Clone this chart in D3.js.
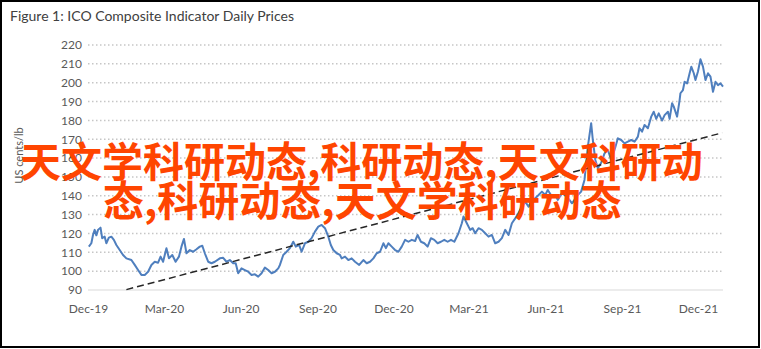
<!DOCTYPE html>
<html>
<head>
<meta charset="utf-8">
<script src="https://cdn.jsdelivr.net/npm/d3@7"></script>
<style>
  body { margin: 0; background: #fff; }
  svg { display: block; }
</style>
</head>
<body>
<div id="chart"></div>
<script>
// price series (US cents/lb)
const dates = [
  '2019-12-02','2019-12-05','2019-12-07','2019-12-09','2019-12-11','2019-12-13','2019-12-16','2019-12-18','2019-12-21','2019-12-23',
  '2019-12-26','2019-12-29','2020-01-01','2020-01-04','2020-01-08','2020-01-12','2020-01-16','2020-01-22','2020-01-26','2020-01-30',
  '2020-02-03','2020-02-07','2020-02-11','2020-02-15','2020-02-19','2020-02-23','2020-02-26','2020-02-29','2020-03-04','2020-03-07',
  '2020-03-11','2020-03-15','2020-03-19','2020-03-22','2020-03-25','2020-03-28','2020-04-01','2020-04-05','2020-04-09','2020-04-13',
  '2020-04-16','2020-04-19','2020-04-23','2020-04-27','2020-05-01','2020-05-07','2020-05-11','2020-05-15','2020-05-19','2020-05-23',
  '2020-05-26','2020-05-29','2020-06-02','2020-06-06','2020-06-10','2020-06-14','2020-06-18','2020-06-22','2020-06-26','2020-06-30',
  '2020-07-04','2020-07-08','2020-07-12','2020-07-16','2020-07-18','2020-07-22','2020-07-26','2020-07-30','2020-08-03','2020-08-06',
  '2020-08-10','2020-08-13','2020-08-17','2020-08-21','2020-08-25','2020-08-29','2020-09-02','2020-09-06','2020-09-10','2020-09-14',
  '2020-09-17','2020-09-20','2020-09-24','2020-09-28','2020-09-30','2020-10-04','2020-10-08','2020-10-12','2020-10-16','2020-10-21',
  '2020-10-26','2020-10-30','2020-11-03','2020-11-07','2020-11-11','2020-11-15','2020-11-19','2020-11-22','2020-11-25','2020-11-29',
  '2020-12-03','2020-12-07','2020-12-11','2020-12-15','2020-12-19','2020-12-23','2020-12-27','2020-12-30','2021-01-03','2021-01-07',
  '2021-01-11','2021-01-15','2021-01-19','2021-01-23','2021-01-27','2021-01-31','2021-02-04','2021-02-08','2021-02-12','2021-02-17',
  '2021-02-21','2021-02-23','2021-02-27','2021-03-03','2021-03-06','2021-03-09','2021-03-13','2021-03-17','2021-03-21','2021-03-25',
  '2021-03-29','2021-04-02','2021-04-06','2021-04-10','2021-04-14','2021-04-18','2021-04-22','2021-04-26','2021-04-30','2021-05-04',
  '2021-05-08','2021-05-12','2021-05-16','2021-05-20','2021-05-24','2021-05-28','2021-06-01','2021-06-04','2021-06-09','2021-06-13',
  '2021-06-16','2021-06-21','2021-06-27','2021-07-03','2021-07-06','2021-07-10','2021-07-14','2021-07-18','2021-07-22','2021-07-26',
  '2021-07-28','2021-07-31','2021-08-03','2021-08-07','2021-08-11','2021-08-15','2021-08-19','2021-08-23','2021-08-27','2021-08-31',
  '2021-09-04','2021-09-08','2021-09-12','2021-09-16','2021-09-20','2021-09-22','2021-09-25','2021-09-28','2021-10-02','2021-10-06',
  '2021-10-09','2021-10-12','2021-10-15','2021-10-19','2021-10-22','2021-10-26','2021-10-28','2021-10-31','2021-11-02','2021-11-06',
  '2021-11-09','2021-11-10','2021-11-13','2021-11-15','2021-11-18','2021-11-21','2021-11-23','2021-11-26','2021-11-28','2021-12-01',
  '2021-12-04','2021-12-07','2021-12-10','2021-12-13','2021-12-16','2021-12-19','2021-12-22','2021-12-25','2021-12-28','2021-12-31'
];
const prices = [
  113, 114.8, 119.2, 121.9, 119, 121.9, 123.1, 117.5, 118.3, 114.8,
  117.8, 118.3, 116.6, 113.9, 111.2, 108.6, 106.8, 105.9, 103.3, 100.6,
  98, 98, 99.7, 103.3, 105, 104.5, 107.7, 105, 112.2, 106.8,
  108.6, 105, 107.7, 113, 117.1, 109.5, 111.2, 110.3, 111.6, 113,
  113.5, 109.5, 105, 104.2, 105, 106.8, 107.1, 105, 105.9, 104.2,
  104.2, 98.9, 101.5, 100.6, 99.7, 98, 98.3, 97.1, 98.9, 101.9,
  100.6, 98.9, 99.7, 101.5, 103.3, 108.6, 110.3, 112.2, 115.6, 113,
  113.9, 110.3, 114.8, 115.6, 117.5, 121, 123.6, 124.5, 122.8, 118.3,
  113.9, 111.2, 109.5, 108.6, 106.8, 107.7, 105.9, 106.8, 105, 103.3,
  105.9, 104.2, 105, 106.8, 109.5, 110.3, 114.8, 112.2, 114.8, 113,
  111.2, 110.3, 113, 116.6, 115.6, 116.6, 116, 119.2, 115.6, 114.8,
  113, 117.5, 116.6, 114.8, 115.6, 116.6, 115.6, 116.6, 115.6, 120.1,
  125.4, 129, 125.4, 121.9, 122.8, 120.1, 122.8, 121.9, 120.1, 118.3,
  119.2, 114.8, 115.6, 117.5, 121.9, 119.2, 125.4, 128, 131, 134.2,
  136.9, 134.2, 137.8, 138.7, 140.4, 142.2, 140.4, 143.1, 139.6, 140.4,
  137.8, 141.3, 139.6, 136, 137.8, 140.4, 142.2, 148.4, 166, 178.5,
  169.6, 159, 154.6, 157.5, 162.5, 164.3, 159, 164.3, 170.5, 169.6,
  167.8, 168.7, 169.6, 168.7, 171.4, 175.8, 174, 177.6, 175.8, 182,
  184.6, 180.8, 183.7, 179.9, 182.8, 184.6, 180.8, 189.1, 187.3, 182,
  190.8, 194.4, 196.1, 200.5, 199.6, 205, 208.5, 205, 201.4, 205.9,
  212.4, 208.5, 201.4, 205, 203.2, 195.2, 200.5, 198.7, 199.6, 197.9
];

// dashed trend line end points
const trendDates = ['2020-01-16', '2021-12-30'];
const trendValues = [90.2, 173.4];

// axis ticks
const yTicks = [90, 100, 110, 120, 130, 140, 150, 160, 170, 180, 190, 200, 210, 220];
const xTickLabels = ['Dec-19', 'Mar-20', 'Jun-20', 'Sep-20', 'Dec-20', 'Mar-21', 'Jun-21', 'Sep-21', 'Dec-21'];
const xDomain = ['2019-12-01', '2021-12-31'];

const titleText = 'Figure 1: ICO Composite Indicator Daily Prices';
const yLabel = 'US cents/lb';
const overlayLines = ['天文学科研动态,科研动态,天文科研动', '态,科研动态,天文学科研动态'];

const width = 761;
const height = 349;
const plot = {left: 88, right: 723, top: 45, bottom: 290};

const parse = d3.timeParse('%Y-%m-%d');
const parseLabel = d3.timeParse('%b-%y');

const svg = d3.select('#chart')
    .append('svg')
    .attr('width', width)
    .attr('height', height);

const x = d3.scaleTime()
    .domain(xDomain.map(parse))
    .range([plot.left, plot.right]);

const y = d3.scaleLinear()
    .domain([d3.min(yTicks), d3.max(yTicks)])
    .range([plot.bottom, plot.top]);

// title
svg.append('text')
    .text(titleText)
    .attr('x', 10)
    .attr('y', 21)
    .style('font-family', 'Lato, "Open Sans", sans-serif')
    .style('font-size', '14px')
    .attr('fill', '#404040');

// dotted grid lines (not at the baseline)
svg.append('g')
    .selectAll('line')
    .data(yTicks.slice(1))
    .enter()
    .append('line')
    .attr('x1', plot.left)
    .attr('x2', plot.right)
    .attr('y1', d => y(d))
    .attr('y2', d => y(d))
    .attr('stroke', '#c6c6c6')
    .attr('stroke-width', 1.5)
    .attr('stroke-dasharray', '1.5,2.5');

// baseline
svg.append('line')
    .attr('x1', plot.left)
    .attr('x2', plot.right)
    .attr('y1', y(yTicks[0]))
    .attr('y2', y(yTicks[0]))
    .attr('stroke', '#d9d9d9')
    .attr('stroke-width', 1);

const yAxis = d3.axisLeft(y)
    .tickValues(yTicks)
    .tickSize(0)
    .tickPadding(6);

svg.append('g')
    .attr('transform', `translate(${plot.left}, 0)`)
    .call(yAxis)
    .call(g => g.select('.domain').remove())
    .selectAll('text')
    .style('font-family', 'Lato, "Open Sans", sans-serif')
    .style('font-size', '12px')
    .attr('fill', '#595959');

const xAxis = d3.axisBottom(x)
    .tickValues(xTickLabels.map(parseLabel))
    .tickFormat(d3.timeFormat('%b-%y'))
    .tickSize(0)
    .tickPadding(14);

svg.append('g')
    .attr('transform', `translate(0, ${plot.bottom})`)
    .call(xAxis)
    .call(g => g.select('.domain').remove())
    .selectAll('text')
    .style('font-family', 'Lato, "Open Sans", sans-serif')
    .style('font-size', '12px')
    .attr('fill', '#595959');

// y axis title
svg.append('text')
    .text(yLabel)
    .attr('transform', `translate(23, ${(plot.top + plot.bottom) / 2 - 12}) rotate(-90)`)
    .attr('text-anchor', 'middle')
    .style('font-family', 'Lato, "Open Sans", sans-serif')
    .style('font-size', '11px')
    .attr('fill', '#595959');

// price line
const series = dates.map((d, i) => ({date: parse(d), value: prices[i]}));

const line = d3.line()
    .x(d => x(d.date))
    .y(d => y(d.value));

svg.append('path')
    .datum(series)
    .attr('d', line)
    .attr('fill', 'none')
    .attr('stroke', '#4f7fbe')
    .attr('stroke-width', 2)
    .attr('stroke-linejoin', 'round');

// trend line
const trend = trendDates.map((d, i) => ({date: parse(d), value: trendValues[i]}));

svg.append('path')
    .datum(trend)
    .attr('d', line)
    .attr('fill', 'none')
    .attr('stroke', '#262626')
    .attr('stroke-width', 1.5)
    .attr('stroke-dasharray', '7,4');

// orange overlay text
svg.append('g')
    .selectAll('text')
    .data(overlayLines)
    .enter()
    .append('text')
    .text(d => d)
    .attr('x', (d, i) => i === 0 ? 20 : 103)
    .attr('y', (d, i) => 177 + i * 39)
    .style('font-family', '"Noto Sans CJK SC", sans-serif')
    .style('font-weight', 'bold')
    .style('font-size', '41px')
    .attr('fill', '#ff4500');

// frame
svg.append('rect')
    .attr('x', 1)
    .attr('y', 1)
    .attr('width', width - 3)
    .attr('height', height - 3)
    .attr('fill', 'none')
    .attr('stroke', '#000')
    .attr('stroke-width', 2);
</script>
</body>
</html>
